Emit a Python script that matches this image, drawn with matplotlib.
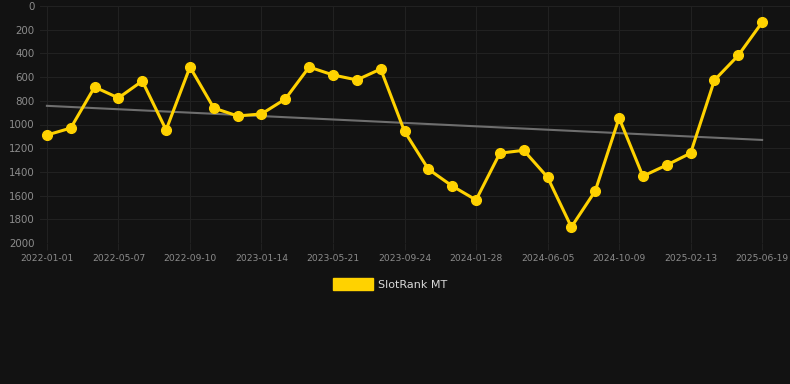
import numpy as np
import matplotlib
matplotlib.use('Agg')
from matplotlib import pyplot as plt
from matplotlib.patches import Patch

# 데이터 (42일 간격 포인트)
rank = [1089, 1030, 684, 776, 633, 1046, 515, 861, 928, 911,
        785, 515, 582, 624, 532, 1058, 1377, 1519, 1637, 1242,
        1218, 1445, 1865, 1561, 945, 1436, 1342, 1242, 626, 417, 138]
tick_labels = ['2022-01-01', '2022-05-07', '2022-09-10', '2023-01-14', '2023-05-21',
               '2023-09-24', '2024-01-28', '2024-06-05', '2024-10-09', '2025-02-13',
               '2025-06-19']
yticks = [0, 200, 400, 600, 800, 1000, 1200, 1400, 1600, 1800, 2000]

bg = '#121212'
x = np.arange(len(rank))

fig = plt.figure(figsize=(7.9, 3.84), dpi=100, facecolor=bg)
ax = fig.add_axes([40 / 790, (384 - 243) / 384, 750 / 790, 237 / 384])
ax.set_facecolor(bg)

# 추세선
coef = np.polyfit(x, rank, 1)
ax.plot(x, np.polyval(coef, x), color='#6e6e6e', lw=1.5, zorder=2)

# 메인 라인
ax.plot(x, rank, color='#FFD200', lw=2.2, marker='o', ms=7, zorder=3)

ax.set_ylim(2000, 0)
ax.set_xlim(-0.29, 31.17)
ax.set_yticks(yticks)
ax.set_xticks(x[::3])
ax.set_xticklabels(tick_labels)

ax.grid(True, color='#212121', lw=0.8)
ax.set_axisbelow(True)
for s in ax.spines.values():
    s.set_visible(False)
ax.tick_params(axis='y', length=0, pad=4, labelsize=7.4, labelcolor='#8c8c8c')
ax.tick_params(axis='x', length=5, color='#212121', pad=3, labelsize=6.6, labelcolor='#8c8c8c')

# 범례
handle = Patch(facecolor='#FFD200', edgecolor='#FFD200')
fig.legend([handle], ['SlotRank MT'], loc='center', bbox_to_anchor=(390 / 790, 1 - 284 / 384),
           frameon=False, fontsize=8, labelcolor='#d9d9d9', handlelength=3.6, handleheight=1.2,
           handletextpad=0.5)

fig.savefig('out.png', dpi=100, facecolor=bg)
